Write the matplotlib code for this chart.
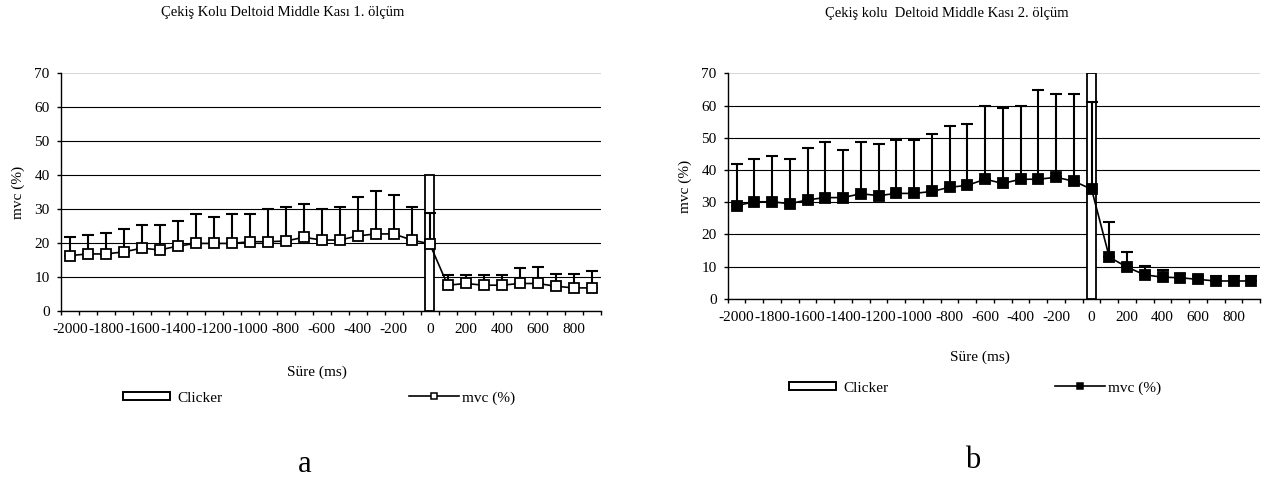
import matplotlib
matplotlib.use("Agg")
import matplotlib.pyplot as plt
from matplotlib.patches import Patch
from matplotlib.lines import Line2D

plt.rcParams['font.family'] = ['Liberation Serif', 'DejaVu Serif']
plt.rcParams['axes.unicode_minus'] = False

# ---------------- data ----------------
times_ms = [-2000, -1900, -1800, -1700, -1600, -1500, -1400, -1300, -1200, -1100,
            -1000, -900, -800, -700, -600, -500, -400, -300, -200, -100,
            0, 100, 200, 300, 400, 500, 600, 700, 800, 900]
tick_labels = ['-2000', '-1800', '-1600', '-1400', '-1200', '-1000', '-800', '-600',
               '-400', '-200', '0', '200', '400', '600', '800']

title_a = "Çekiş Kolu Deltoid Middle Kası 1. ölçüm"
title_b = "Çekiş kolu  Deltoid Middle Kası 2. ölçüm"

clicker_time = 0
clicker_a = 40
clicker_b = 70

mvc_a = [16.3, 16.8, 16.8, 17.4, 18.5, 18.0, 19.1, 19.9, 19.9, 19.9,
         20.4, 20.4, 20.6, 21.7, 20.9, 20.9, 22.1, 22.7, 22.7, 20.9,
         19.8, 7.6, 8.1, 7.6, 7.6, 8.1, 8.1, 7.3, 6.8, 6.8]
sd_a = [5.5, 5.5, 6.2, 6.7, 6.8, 7.3, 7.4, 8.6, 7.8, 8.6,
        8.1, 9.6, 10.0, 9.7, 9.1, 9.7, 11.5, 12.6, 11.5, 9.7,
        9.1, 3.0, 2.5, 3.0, 3.0, 4.5, 5.0, 3.7, 4.2, 5.0]

mvc_b = [28.9, 30.1, 30.1, 29.5, 30.7, 31.4, 31.4, 32.6, 32.0, 32.7,
         32.7, 33.3, 34.6, 35.2, 37.1, 35.8, 37.1, 37.1, 37.7, 36.5,
         34.0, 12.9, 9.8, 7.4, 6.7, 6.5, 6.0, 5.5, 5.5, 5.5]
sd_b = [12.8, 13.4, 14.1, 14.0, 16.0, 17.2, 14.7, 16.0, 15.9, 16.5,
        16.5, 17.7, 18.9, 19.0, 22.6, 23.3, 22.6, 27.6, 25.8, 27.0,
        27.0, 10.8, 4.6, 2.7, 2.3, 1.3, 1.2, 1.5, 1.5, 1.7]

yticks = [0, 10, 20, 30, 40, 50, 60, 70]

W, H = 1276, 484
fig = plt.figure(figsize=(W / 100, H / 100), dpi=100)


def fx(x):
    return x / W


def fy(y):
    return 1 - y / H


def draw(rect, mvc, sd, clicker, filled, title, title_xy, ylab_xy, xlab_xy,
         leg1_xy, leg2_xy, letter, letter_xy):
    x0, x1, ytop, ybot = rect
    ax = fig.add_axes([fx(x0), fy(ybot), (x1 - x0) / W, (ybot - ytop) / H])
    idx = list(range(len(times_ms)))
    ci = times_ms.index(clicker_time)

    ax.bar([ci], [clicker], width=0.47, color='white', edgecolor='black',
           linewidth=1.3, zorder=2)
    lower = [0] * len(sd)
    ax.errorbar(idx, mvc, yerr=[lower, sd], fmt='none', ecolor='black',
                elinewidth=1.5, capsize=4.3, capthick=1.5, zorder=3)
    mfc = 'black' if filled else 'white'
    ax.plot(idx, mvc, '-', color='black', lw=1.2, marker='s', ms=6.8,
            mfc=mfc, mec='black', mew=1.3, zorder=4)

    ax.set_xlim(-0.5, len(times_ms) - 0.5)
    ax.set_ylim(0, 70)
    ax.set_yticks(yticks)
    ax.set_yticklabels([str(v) for v in yticks], fontsize=11)
    ax.yaxis.grid(True, color='black', lw=0.8)
    ax.get_ygridlines()[-1].set_color('#d9d9d9')
    ax.set_axisbelow(True)

    bounds = [i - 0.5 for i in range(len(times_ms) + 1)]
    ax.set_xticks(bounds)
    ax.set_xticklabels([])
    ax.set_xticks(idx[::2], minor=True)
    ax.set_xticklabels(tick_labels, minor=True, fontsize=11)
    ax.tick_params(axis='x', which='major', length=3, width=1, direction='out')
    ax.tick_params(axis='x', which='minor', length=0, pad=8.5)
    ax.tick_params(axis='y', length=3, width=1, pad=5)
    for s in ['top', 'right']:
        ax.spines[s].set_visible(False)
    for s in ['left', 'bottom']:
        ax.spines[s].set_color('black')
        ax.spines[s].set_linewidth(1.0)

    fig.text(fx(title_xy[0]), fy(title_xy[1]), title, fontsize=10.5,
             ha='center', va='center')
    fig.text(fx(ylab_xy[0]), fy(ylab_xy[1]), 'mvc (%)', fontsize=11,
             ha='center', va='center', rotation=90)
    fig.text(fx(xlab_xy[0]), fy(xlab_xy[1]), 'Süre (ms)', fontsize=11,
             ha='center', va='center')
    fig.text(fx(letter_xy[0]), fy(letter_xy[1]), letter, fontsize=22,
             ha='center', va='center')

    h1 = Patch(facecolor='white', edgecolor='black', linewidth=1.4)
    l1 = ax.legend([h1], ['Clicker'], loc='center left',
                   bbox_to_anchor=(fx(leg1_xy[0]), fy(leg1_xy[1])),
                   bbox_transform=fig.transFigure, frameon=False, borderpad=0,
                   borderaxespad=0, handlelength=3.1, handleheight=0.5,
                   handletextpad=0.45, fontsize=11)
    ax.add_artist(l1)
    h2 = Line2D([0], [0], color='black', lw=1.2, marker='s', ms=4.5,
                mfc=mfc, mec='black', mew=1.1)
    ax.legend([h2], ['mvc (%)'], loc='center left',
              bbox_to_anchor=(fx(leg2_xy[0]), fy(leg2_xy[1])),
              bbox_transform=fig.transFigure, frameon=False, borderpad=0,
              borderaxespad=0, handlelength=3.3, handletextpad=0.2,
              fontsize=11)
    return ax


draw((60.7, 600.7, 73.3, 311.0), mvc_a, sd_a, clicker_a, False, title_a,
     (283, 12.7), (18, 192), (316.7, 372.7), (123, 398), (409, 398),
     'a', (305, 464))
draw((727.7, 1260.2, 73.3, 298.7), mvc_b, sd_b, clicker_b, True, title_b,
     (947, 13.3), (685.5, 186.5), (980, 357.7), (789, 388), (1055, 388),
     'b', (973, 461))

fig.savefig('out.png', dpi=100)
